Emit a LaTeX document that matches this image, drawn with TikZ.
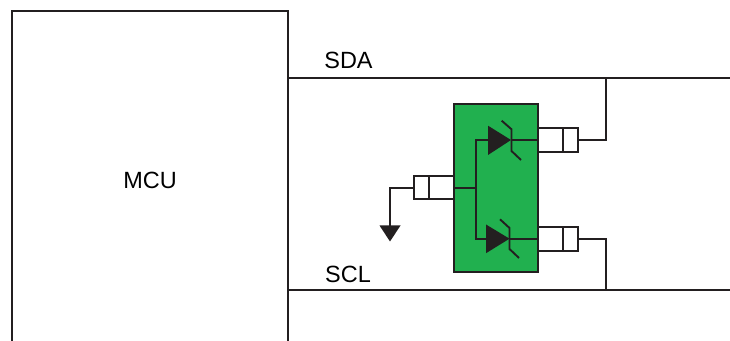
\documentclass[tikz,border=0pt]{standalone}
\usepackage{fontspec}
\setmainfont{Liberation Sans}
\definecolor{ink}{HTML}{231F20}
\definecolor{tvsgreen}{HTML}{21B04F}
\newlength{\pxu}\setlength{\pxu}{0.75pt}
\tikzset{
  wire/.style={draw=ink,line width=1.9\pxu,line join=miter},
  bus/.style={draw=ink,line width=1.9\pxu},
  cell/.style={draw=ink,line width=1.9\pxu,fill=white,inner sep=0pt,outer sep=0pt,minimum height=24\pxu},
  label/.style={text=black,font=\fontsize{17.6pt}{20pt}\selectfont,inner sep=0pt},
  chip/.style={draw=ink,line width=1.9\pxu,fill=tvsgreen,inner sep=0pt,outer sep=0pt,minimum width=84\pxu,minimum height=168\pxu},
  tri/.style={fill=ink,draw=none},
}
\begin{document}
\begin{tikzpicture}[x=0.75pt,y=-0.75pt]
\useasboundingbox (0,0) rectangle (730,341);
% MCU outline, open at the bottom
\coordinate (mcuBL) at (12,341);
\coordinate (mcuTL) at (12,11);
\coordinate (mcuTR) at (288,11);
\coordinate (mcuBR) at (288,341);
\draw[wire] (mcuBL) -- (mcuTL) -- (mcuTR) -- (mcuBR);
\node[label] (mcu) at (150,180) {MCU};
% buses
\coordinate (sdaL) at (288,78);
\coordinate (sdaR) at (730,78);
\coordinate (sclL) at (288,290.3);
\coordinate (sclR) at (730,290.3);
\coordinate (sdaT) at (606,78);
\coordinate (sclT) at (606,290.3);
\draw[bus] (sdaL) -- (sdaR);
\draw[bus] (sclL) -- (sclR);
\node[label] (sda) at (348.5,60) {SDA};
\node[label] (scl) at (348,274) {SCL};
% chip
\node[chip] (chip) at (496.3,188) {};
% pads
\node[cell,minimum width=25\pxu] (padAa) at (550.5,140) {};
\node[cell,minimum width=15\pxu] (padAb) at (570.5,140) {};
\node[cell,minimum width=25\pxu] (padBa) at (550.5,238.7) {};
\node[cell,minimum width=15\pxu] (padBb) at (570.5,238.7) {};
\node[cell,minimum width=15\pxu,minimum height=23.4\pxu] (padGb) at (421.5,187.7) {};
\node[cell,minimum width=25\pxu,minimum height=23.4\pxu] (padGa) at (441.5,187.7) {};
% diodes
\coordinate (dAb) at (488,140);
\coordinate (dAt) at (511,140);
\coordinate (dBb) at (486,238.7);
\coordinate (dBt) at (509.5,238.7);
\coordinate (junT) at (476,140);
\coordinate (junG) at (476,187.7);
\coordinate (junB) at (476,238.7);
\fill[tri] (488,125.7) -- (dAt) -- (488,155) -- cycle;
\fill[tri] (486,224.5) -- (dBt) -- (486,253.2) -- cycle;
\draw[wire] (501.7,120.7) -- (511.5,129.3) -- (511.5,151) -- (521,160);
\draw[wire] (500,219.3) -- (509.5,228) -- (509.5,249) -- (519,258);
% internal wires
\draw[wire] (dAb) -- (junT) -- (junB) -- (dBb);
\draw[wire] (junG) -- (padGa.east);
\draw[wire] (dAt) -- (padAa.west);
\draw[wire] (dBt) -- (padBa.west);
% external wires
\draw[wire] (padAb.east) -| (sdaT);
\draw[wire] (padBb.east) -| (sclT);
\coordinate (gndC) at (390,187.7);
\coordinate (gndT) at (390,226);
\draw[wire] (padGb.west) -- (gndC) -- (gndT);
\fill[tri] (379.5,225.5) -- (400.5,225.5) -- (390,241.5) -- cycle;
\end{tikzpicture}
\end{document}
